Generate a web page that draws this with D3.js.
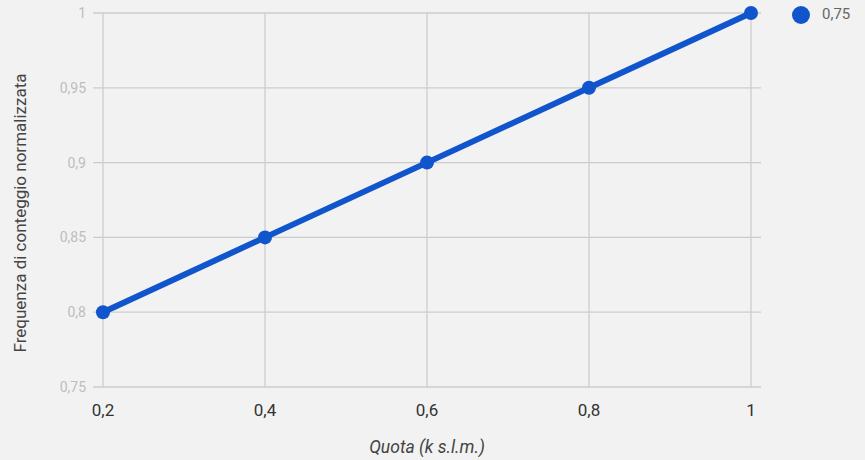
<!DOCTYPE html>
<html><head><meta charset="utf-8">
<script src="https://cdn.jsdelivr.net/npm/d3@7"></script>
<style>body{margin:0;background:#f2f2f2;}svg{display:block;font-family:Roboto,sans-serif;}</style>
</head><body><svg id="c" width="865" height="460"></svg>
<script>
const quota = [0.2, 0.4, 0.6, 0.8, 1];
const frequenza = [0.8, 0.85, 0.9, 0.95, 1];
const xTicks = [0.2, 0.4, 0.6, 0.8, 1];
const yTicks = [0.75, 0.8, 0.85, 0.9, 0.95, 1];
const seriesName = "0,75";
const fmt = v => String(v).replace(".", ",");

const svg = d3.select("#c");
svg.append("rect").attr("width",865).attr("height",460).attr("fill","#f2f2f2");
const x = d3.scaleLinear().domain([0.2,1]).range([103,751]);
const y = d3.scaleLinear().domain([0.75,1]).range([387,13]);
const grid = "#cccccc";

svg.append("g").selectAll("line").data(yTicks).join("line")
  .attr("x1",93).attr("x2",761).attr("y1",d=>y(d)).attr("y2",d=>y(d))
  .attr("stroke",grid).attr("stroke-width",1.3);
svg.append("g").selectAll("line").data(xTicks).join("line")
  .attr("x1",d=>x(d)).attr("x2",d=>x(d)).attr("y1",y(1)).attr("y2",y(0.75))
  .attr("stroke",grid).attr("stroke-width",1.3);

svg.append("g").selectAll("text").data(yTicks).join("text")
  .attr("x",86).attr("y",d=>y(d)).attr("dy","0.35em").attr("text-anchor","end")
  .attr("font-size",14).attr("fill","#bdbdbd").text(fmt);
svg.append("g").selectAll("text").data(xTicks).join("text")
  .attr("x",d=>x(d)).attr("y",410).attr("dy","0.35em").attr("text-anchor","middle")
  .attr("font-size",17).attr("fill","#333").text(fmt);

svg.append("text").attr("transform","translate(26,213) rotate(-90)")
  .attr("text-anchor","middle").attr("font-size",17).attr("fill","#444")
  .text("Frequenza di conteggio normalizzata");
svg.append("text").attr("x",427).attr("y",453).attr("text-anchor","middle")
  .attr("font-size",17.5).attr("font-style","italic").attr("fill","#444")
  .text("Quota (k s.l.m.)");

const data = quota.map((q,i)=>({q, f:frequenza[i]}));
const col = "#1155cc";
svg.append("path").datum(data)
  .attr("d", d3.line().x(d=>x(d.q)).y(d=>y(d.f)))
  .attr("fill","none").attr("stroke",col).attr("stroke-width",6).attr("stroke-linecap","round");
svg.append("g").selectAll("circle").data(data).join("circle")
  .attr("cx",d=>x(d.q)).attr("cy",d=>y(d.f)).attr("r",7).attr("fill",col);

svg.append("circle").attr("cx",801).attr("cy",15).attr("r",9).attr("fill",col);
svg.append("text").attr("x",822).attr("y",14).attr("dy","0.35em")
  .attr("font-size",15).attr("fill","#666").text(seriesName);
</script></body></html>
